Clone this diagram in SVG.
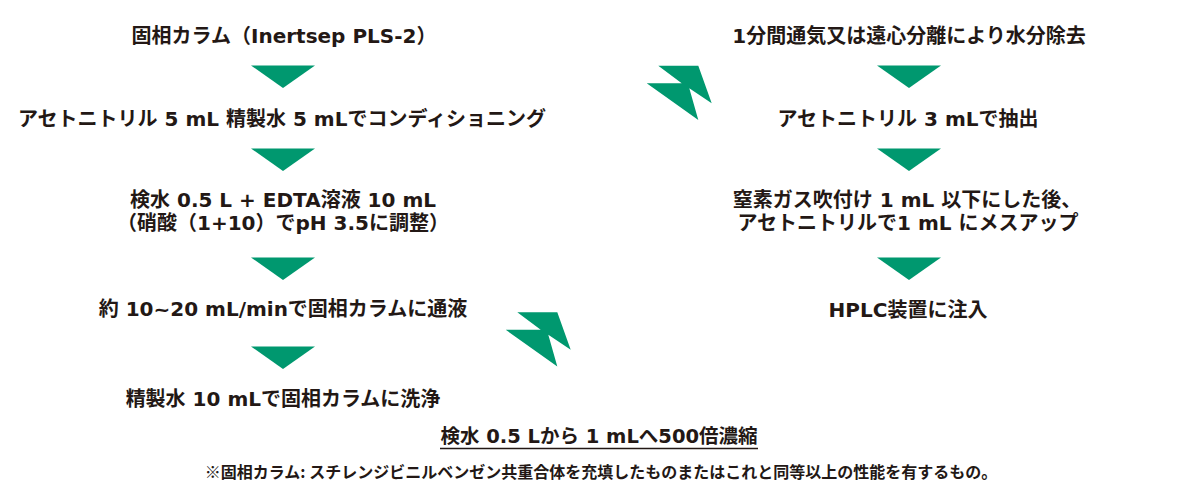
<svg xmlns="http://www.w3.org/2000/svg" width="1200" height="504" viewBox="0 0 1200 504">
<style>
.t{font-family:"DejaVu Sans","Noto Sans CJK JP",sans-serif;font-weight:bold;font-size:20px;fill:#231815;text-anchor:middle}
.n{font-family:"Noto Sans CJK JP",sans-serif;font-weight:bold;fill:#231815;text-anchor:middle}
.a{fill:#00986f}
</style>
<defs>
<polygon id="tri" class="a" points="-32,0 32,0 0,22.5"/>
<polygon id="bolt" class="a" points="11.6,-17.6 51.6,-17.6 65,20 42.6,5 51.6,36.7 0,0 35,0"/>
</defs>
<rect width="1200" height="504" fill="#ffffff"/>
<g id="n1"><text class="t" x="284" y="43">固相カラム（Inertsep PLS-2）</text></g>
<g id="n2"><text class="t" x="282" y="126">アセトニトリル 5 mL 精製水 5 mLでコンディショニング</text></g>
<g id="n3"><text class="t" x="283" y="207">検水 0.5 L + EDTA溶液 10 mL</text><text class="t" x="283" y="230">（硝酸（1+10）でpH 3.5に調整）</text></g>
<g id="n4"><text class="t" x="283" y="316">約 10~20 mL/minで固相カラムに通液</text></g>
<g id="n5"><text class="t" x="283" y="406">精製水 10 mLで固相カラムに洗浄</text></g>
<g id="n6"><text class="t" x="909" y="43">1分間通気又は遠心分離により水分除去</text></g>
<g id="n7"><text class="t" x="908" y="126">アセトニトリル 3 mLで抽出</text></g>
<g id="n8"><text class="t" x="907" y="207">窒素ガス吹付け 1 mL 以下にした後、</text><text class="t" x="908" y="230">アセトニトリルで1 mL にメスアップ</text></g>
<g id="n9"><text class="t" x="908" y="317">HPLC装置に注入</text></g>
<g id="summary"><text class="t" x="599" y="443" style="font-size:19.5px">検水 0.5 Lから 1 mLへ500倍濃縮</text><line x1="440" y1="448.5" x2="758" y2="448.5" stroke="#231815" stroke-width="1.3"/></g>
<g id="note"><text class="n" x="601" y="478" font-size="16">※固相カラム: スチレンジビニルベンゼン共重合体を充填したものまたはこれと同等以上の性能を有するもの。</text></g>
<g id="connectors">
<use href="#tri" x="283" y="65.5"/>
<use href="#tri" x="283" y="148.5"/>
<use href="#tri" x="283" y="257.5"/>
<use href="#tri" x="283" y="346.5"/>
<use href="#tri" x="909" y="65.5"/>
<use href="#tri" x="909" y="148.5"/>
<use href="#tri" x="909" y="257.5"/>
<use href="#bolt" x="646.7" y="83.3"/>
<use href="#bolt" x="505.7" y="329.8"/>
</g>
</svg>
